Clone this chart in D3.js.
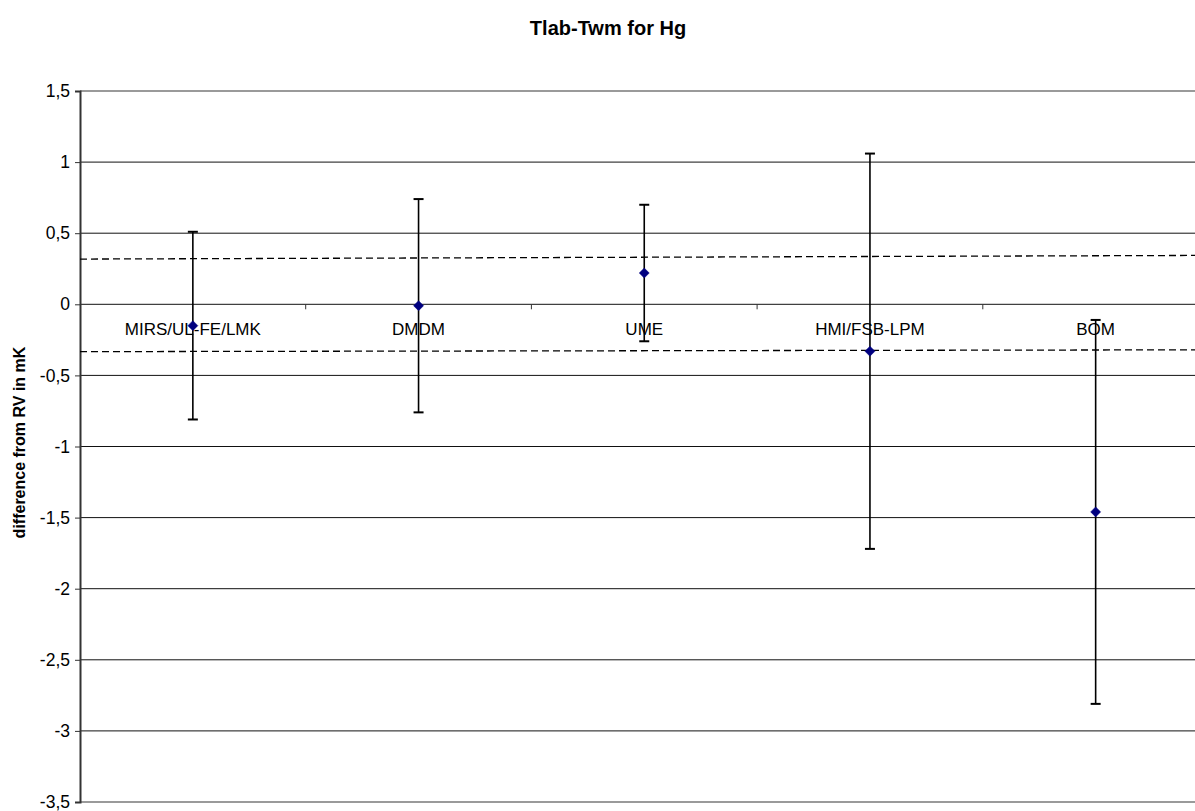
<!DOCTYPE html>
<html>
<head>
<meta charset="utf-8">
<script src="https://cdn.jsdelivr.net/npm/d3@7/dist/d3.min.js"></script>
<style>
  html, body { margin: 0; padding: 0; background: #fff; overflow: hidden; }
  svg { display: block; font-family: "Liberation Sans", Arial, sans-serif; }
</style>
</head>
<body>
<svg id="chart" width="1195" height="811"></svg>
<script>
// ---- data ----
const categories = ["MIRS/UL-FE/LMK", "DMDM", "UME", "HMI/FSB-LPM", "BOM"];
const values     = [-0.15, -0.01, 0.22, -0.33, -1.46];
const errors     = [0.66, 0.75, 0.48, 1.39, 1.35];
const yTicks     = [1.5, 1, 0.5, 0, -0.5, -1, -1.5, -2, -2.5, -3, -3.5];
// reference band (dashed lines), value at left edge and at right edge of plot
const upperLimit = [0.318, 0.344];
const lowerLimit = [-0.333, -0.320];

const title = "Tlab-Twm for Hg";
const yTitle = "difference from RV in mK";

// ---- layout ----
const svg = d3.select("#chart");
const plotLeft = 80, plotTop = 91, plotBottom = 802;
const bandW = 225.7;
const plotRight = plotLeft + bandW * categories.length;

const x = d3.scaleBand().domain(categories).range([plotLeft, plotRight]).paddingInner(0).paddingOuter(0);
const y = d3.scaleLinear().domain([-3.5, 1.5]).range([plotBottom, plotTop]);
const xEdge = d3.scaleLinear().domain([0, 1]).range([plotLeft, plotRight]);
const fmt = v => String(v).replace(".", ",");

// gridlines
svg.append("g").selectAll("line")
  .data(yTicks.filter(t => t !== 1.5 && t !== -3.5))
  .join("line")
  .attr("x1", plotLeft).attr("x2", plotRight)
  .attr("y1", d => y(d)).attr("y2", d => y(d))
  .attr("stroke", "#111").attr("stroke-width", 1);

// top & bottom border
svg.append("line").attr("x1", plotLeft).attr("x2", plotRight)
  .attr("y1", y(1.5)).attr("y2", y(1.5))
  .attr("stroke", "#9a9a9a").attr("stroke-width", 2);
svg.append("line").attr("x1", plotLeft).attr("x2", plotRight)
  .attr("y1", y(-3.5)).attr("y2", y(-3.5))
  .attr("stroke", "#9a9a9a").attr("stroke-width", 2);

// y axis
const yAxis = d3.axisLeft(y).tickValues(yTicks).tickSize(5).tickPadding(5).tickFormat(fmt);
const gy = svg.append("g").attr("transform", `translate(${plotLeft},0)`).call(yAxis);
gy.select(".domain").attr("stroke", "#333").attr("stroke-width", 2);
gy.selectAll(".tick line").attr("stroke", "#333");
gy.selectAll(".tick text").attr("font-size", 17.5).attr("fill", "#000")
  .attr("font-family", "Liberation Sans, Arial, sans-serif");

// x category tick marks on the zero line
svg.append("g").selectAll("line")
  .data(categories.slice(1))
  .join("line")
  .attr("x1", d => x(d)).attr("x2", d => x(d))
  .attr("y1", y(0)).attr("y2", y(0) + 5)
  .attr("stroke", "#333").attr("stroke-width", 1);

// category labels
svg.append("g").selectAll("text")
  .data(categories)
  .join("text")
  .attr("x", d => x(d) + x.bandwidth() / 2)
  .attr("y", y(0) + 31)
  .attr("text-anchor", "middle")
  .attr("font-size", 17)
  .attr("fill", "#000")
  .text(d => d);

// dashed reference lines
[upperLimit, lowerLimit].forEach(lim => {
  svg.append("line")
    .attr("x1", xEdge(0)).attr("x2", xEdge(1))
    .attr("y1", y(lim[0])).attr("y2", y(lim[1]))
    .attr("stroke", "#000").attr("stroke-width", 1.3)
    .attr("stroke-dasharray", "7,4");
});

// error bars
const pts = categories.map((c, i) => ({ c, v: values[i], e: errors[i] }));
const cx = d => x(d.c) + x.bandwidth() / 2;
const eg = svg.append("g");
eg.selectAll("line.v").data(pts).join("line").attr("class", "v")
  .attr("x1", cx).attr("x2", cx)
  .attr("y1", d => y(d.v + d.e)).attr("y2", d => y(d.v - d.e))
  .attr("stroke", "#000").attr("stroke-width", 1.6);
eg.selectAll("line.t").data(pts).join("line").attr("class", "t")
  .attr("x1", d => cx(d) - 5).attr("x2", d => cx(d) + 5)
  .attr("y1", d => y(d.v + d.e)).attr("y2", d => y(d.v + d.e))
  .attr("stroke", "#000").attr("stroke-width", 2);
eg.selectAll("line.b").data(pts).join("line").attr("class", "b")
  .attr("x1", d => cx(d) - 5).attr("x2", d => cx(d) + 5)
  .attr("y1", d => y(d.v - d.e)).attr("y2", d => y(d.v - d.e))
  .attr("stroke", "#000").attr("stroke-width", 2);

// diamond markers
svg.append("g").selectAll("path").data(pts).join("path")
  .attr("d", d => {
    const px = cx(d), py = y(d.v), r = 5;
    return `M${px},${py - r}L${px + r},${py}L${px},${py + r}L${px - r},${py}Z`;
  })
  .attr("fill", "#000080").attr("stroke", "#000080").attr("stroke-width", 0.5);

// title
svg.append("text")
  .attr("x", 608).attr("y", 35)
  .attr("text-anchor", "middle")
  .attr("font-size", 20).attr("font-weight", "bold")
  .attr("fill", "#000")
  .text(title);

// y axis title
svg.append("text")
  .attr("transform", `translate(25,${(plotTop + plotBottom) / 2 - 4}) rotate(-90)`)
  .attr("text-anchor", "middle")
  .attr("font-size", 16).attr("font-weight", "bold")
  .attr("fill", "#000")
  .text(yTitle);
</script>
</body>
</html>
